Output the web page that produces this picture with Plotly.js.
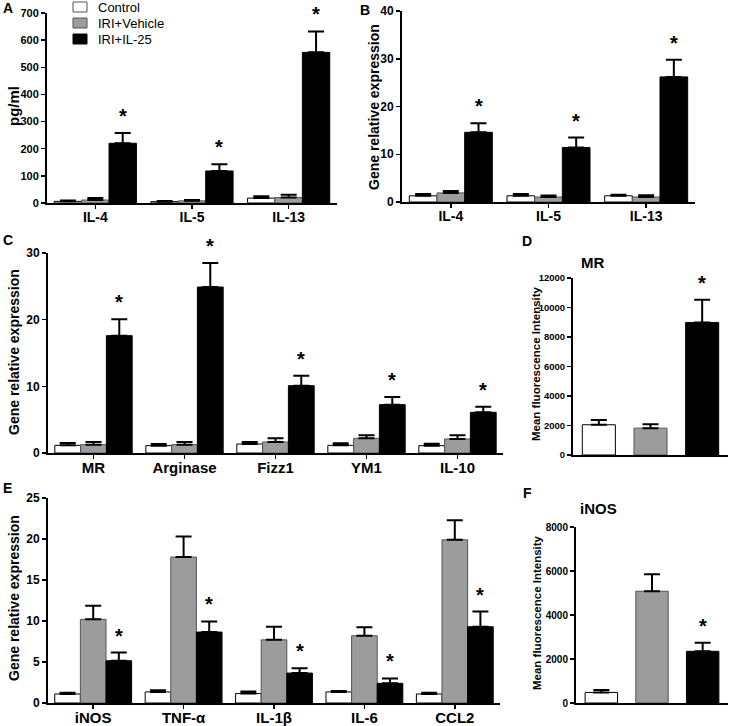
<!DOCTYPE html>
<html><head><meta charset="utf-8">
<script src="https://cdn.plot.ly/plotly-3.0.1.min.js"></script>
<style>html,body{margin:0;padding:0;background:#fff}#chart{width:732px;height:726px}</style>
</head><body><div id="chart"></div><script>
// ---------- data ----------
const groupNames = ['Control', 'IRI+Vehicle', 'IRI+IL-25'];

// Panel A: cytokines (pg/ml)
const aCats = ['IL-4', 'IL-5', 'IL-13'];
const aControl = [6, 5, 18];
const aControlErr = [3, 2, 7];
const aVehicle = [11, 8, 20];
const aVehicleErr = [7, 3, 10];
const aIL25 = [220, 118, 555];
const aIL25Err = [38, 25, 77];

// Panel B: gene relative expression
const bCats = ['IL-4', 'IL-5', 'IL-13'];
const bControl = [1.3, 1.3, 1.3];
const bControlErr = [0.4, 0.4, 0.2];
const bVehicle = [1.9, 1.05, 1.05];
const bVehicleErr = [0.4, 0.3, 0.35];
const bIL25 = [14.6, 11.4, 26.2];
const bIL25Err = [1.9, 2.1, 3.6];

// Panel C: M2 markers
const cCats = ['MR', 'Arginase', 'Fizz1', 'YM1', 'IL-10'];
const cControl = [1.15, 1.1, 1.35, 1.15, 1.1];
const cControlErr = [0.35, 0.25, 0.3, 0.3, 0.3];
const cVehicle = [1.25, 1.25, 1.65, 2.2, 2.1];
const cVehicleErr = [0.4, 0.4, 0.55, 0.45, 0.55];
const cIL25 = [17.6, 24.9, 10.1, 7.25, 6.1];
const cIL25Err = [2.45, 3.6, 1.5, 1.15, 0.85];

// Panel D: MR mean fluorescence intensity
const dVals = [2050, 1820, 8980];
const dErr = [320, 260, 1540];
const dSig = [false, false, true];

// Panel E: M1 markers
const eCats = ['iNOS', 'TNF-\u03b1', 'IL-1\u03b2', 'IL-6', 'CCL2'];
const eControl = [1.1, 1.35, 1.15, 1.35, 1.1];
const eControlErr = [0.15, 0.2, 0.25, 0.1, 0.15];
const eVehicle = [10.2, 17.8, 7.7, 8.2, 19.9];
const eVehicleErr = [1.65, 2.5, 1.6, 1.05, 2.4];
const eIL25 = [5.15, 8.65, 3.65, 2.4, 9.3];
const eIL25Err = [1.0, 1.3, 0.6, 0.6, 1.85];

// Panel F: iNOS mean fluorescence intensity
const fVals = [480, 5080, 2350];
const fErr = [110, 770, 390];
const fSig = [false, false, true];

// ---------- styles ----------
const FONT = 'Arial, "Liberation Sans", sans-serif';
const groupFill = ['#ffffff', '#9c9c9c', '#000000'];
const groupLine = ['#000000', '#555555', '#000000'];
const BARGAP = 0.15;
const SINGLE_WIDTH = 0.64;

const traces = [];
const annotations = [];
const shapes = [];

function star(xref, yref, x, y) {
  annotations.push({
    xref: xref, yref: yref, x: x, y: y, text: '*', showarrow: false,
    xanchor: 'center', yanchor: 'bottom', yshift: 4,
    font: {family: FONT, size: 20, color: '#000', weight: 'bold'}
  });
}

function groupedPanel(axId, cats, series, sigGroup) {
  const xa = 'x' + axId, ya = 'y' + axId;
  series.forEach(function (s, k) {
    traces.push({
      type: 'bar', name: groupNames[k], x: cats, y: s.v,
      xaxis: xa, yaxis: ya, showlegend: false,
      marker: {color: groupFill[k], line: {color: groupLine[k], width: 1}},
      error_y: {type: 'data', symmetric: false, array: s.e, arrayminus: s.e.map(function () { return 0; }),
                color: '#000', thickness: 2, width: 8},
      hoverinfo: 'skip'
    });
  });
  const s = series[sigGroup];
  const off = (1 - BARGAP) / 3 * (sigGroup - 1);
  cats.forEach(function (c, i) {
    star(xa, ya, i + off, s.v[i] + s.e[i]);
  });
}

function singlePanel(axId, vals, errs, sig) {
  const xa = 'x' + axId, ya = 'y' + axId;
  traces.push({
    type: 'bar', x: groupNames, y: vals, width: SINGLE_WIDTH,
    xaxis: xa, yaxis: ya, showlegend: false,
    marker: {color: groupFill, line: {color: groupLine, width: 1}},
    error_y: {type: 'data', symmetric: false, array: errs, arrayminus: errs.map(function () { return 0; }),
              color: '#000', thickness: 2, width: 8},
    hoverinfo: 'skip'
  });
  vals.forEach(function (v, i) { if (sig[i]) star(xa, ya, i, v + errs[i]); });
}

groupedPanel('', aCats, [{v: aControl, e: aControlErr}, {v: aVehicle, e: aVehicleErr}, {v: aIL25, e: aIL25Err}], 2);
groupedPanel('2', bCats, [{v: bControl, e: bControlErr}, {v: bVehicle, e: bVehicleErr}, {v: bIL25, e: bIL25Err}], 2);
groupedPanel('3', cCats, [{v: cControl, e: cControlErr}, {v: cVehicle, e: cVehicleErr}, {v: cIL25, e: cIL25Err}], 2);
singlePanel('4', dVals, dErr, dSig);
groupedPanel('5', eCats, [{v: eControl, e: eControlErr}, {v: eVehicle, e: eVehicleErr}, {v: eIL25, e: eIL25Err}], 2);
singlePanel('6', fVals, fErr, fSig);

// ---------- layout ----------
const W = 732, H = 726;
function px(x) { return x / W; }
function py(y) { return 1 - y / H; }

function xAxis(x0, x1, anchor, labels, size) {
  return {
    domain: [px(x0), px(x1)], anchor: anchor, type: 'category',
    showline: true, linewidth: 2, linecolor: '#000', mirror: false,
    ticks: labels ? 'outside' : '', ticklen: 4, tickwidth: 1.5, tickcolor: '#000',
    ticklabelstandoff: -4,
    showticklabels: labels, showgrid: false, zeroline: false, fixedrange: true,
    tickfont: {family: FONT, size: size, color: '#000', weight: 'bold'}
  };
}
function yAxis(yTop, yBot, anchor, max, dtick, size) {
  return {
    domain: [py(yBot), py(yTop)], anchor: anchor, range: [0, max], dtick: dtick,
    showline: true, linewidth: 2, linecolor: '#000',
    ticks: 'outside', ticklen: 4, tickwidth: 1.5, tickcolor: '#000',
    exponentformat: 'none', separatethousands: false, tickformat: 'd',
    showgrid: false, zeroline: false, fixedrange: true,
    tickfont: {family: FONT, size: size, color: '#000', weight: 'bold'}
  };
}

function text(x, y, t, size, angle, weight, anchor) {
  annotations.push({
    xref: 'paper', yref: 'paper', x: px(x), y: py(y), text: t, showarrow: false,
    xanchor: anchor || 'center', yanchor: 'middle', textangle: angle || 0,
    font: {family: FONT, size: size, color: '#000', weight: weight || 'bold'}
  });
}
// panel letters
text(8, 8, 'A', 14); text(365, 10, 'B', 14); text(8, 240, 'C', 14);
text(527, 241, 'D', 14); text(7, 488, 'E', 14); text(527, 493, 'F', 14);
// panel titles
text(592, 262, 'MR', 15); text(598, 508, 'iNOS', 15);
// y axis titles
text(13, 106, 'pg/ml', 15, -90);
text(374, 107, 'Gene relative expression', 14, -90);
text(14, 352, 'Gene relative expression', 14, -90);
text(536, 364, 'Mean fluorescence Intensity', 11.5, -90);
text(14, 598, 'Gene relative expression', 14, -90);
text(537, 613, 'Mean fluorescence Intensity', 11.5, -90);

// legend (panel A), swatch + label per group
const LEG_X = 73, LEG_Y = 7, LEG_STEP = 16, LEG_W = 14, LEG_H = 10;
groupNames.forEach(function (name, k) {
  const cy = LEG_Y + k * LEG_STEP;
  shapes.push({type: 'rect', xref: 'paper', yref: 'paper',
    x0: px(LEG_X), x1: px(LEG_X + LEG_W), y0: py(cy + LEG_H / 2), y1: py(cy - LEG_H / 2),
    fillcolor: groupFill[k], line: {color: k === 0 ? '#555' : groupLine[k], width: 1}});
  text(LEG_X + LEG_W + 9, cy, name, 13, 0, 'normal', 'left');
});

const layout = {
  width: W, height: H, autosize: false,
  margin: {l: 0, r: 0, t: 0, b: 0, pad: 0},
  paper_bgcolor: '#fff', plot_bgcolor: 'rgba(0,0,0,0)',
  barmode: 'group', bargap: BARGAP, bargroupgap: 0,
  font: {family: FONT, color: '#000'},
  showlegend: false,
  xaxis: xAxis(47, 337, 'y', true, 14),
  yaxis: yAxis(13, 203, 'x', 700, 100, 11),
  xaxis2: xAxis(402, 695, 'y2', true, 14),
  yaxis2: yAxis(11, 202, 'x2', 40, 10, 12),
  xaxis3: xAxis(48, 503, 'y3', true, 15),
  yaxis3: yAxis(253, 453, 'x3', 30, 10, 12),
  xaxis4: xAxis(573, 728, 'y4', false, 10),
  yaxis4: yAxis(278, 455, 'x4', 12000, 2000, 9.5),
  xaxis5: xAxis(48, 500, 'y5', true, 15),
  yaxis5: yAxis(498, 703, 'x5', 25, 5, 12),
  xaxis6: xAxis(576, 728, 'y6', false, 10),
  yaxis6: yAxis(527, 703, 'x6', 8000, 2000, 10),
  annotations: annotations,
  shapes: shapes
};

Plotly.newPlot('chart', traces, layout, {displayModeBar: false, staticPlot: true});
</script></body></html>
